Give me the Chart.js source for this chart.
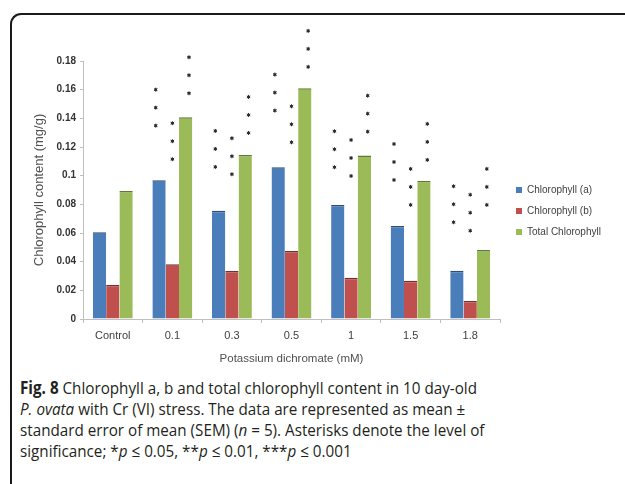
<!DOCTYPE html>
<html>
<head>
<meta charset="utf-8">
<script src="https://cdn.jsdelivr.net/npm/chart.js@4/dist/chart.umd.min.js"></script>
<style>
  body { margin: 0; background: #fff; }
  #wrap { position: relative; width: 625px; height: 484px; overflow: hidden; }
  #frame {
    position: absolute; left: 10px; top: 13px; width: 700px; height: 560px;
    border-left: 2px solid #1a1a1a; border-top: 2px solid #1a1a1a;
    border-top-left-radius: 11px;
  }
  #chart { position: absolute; left: 0; top: 0; }
  #legend { position: absolute; left: 516px; top: 183px; font: 10px "Liberation Sans", Arial, sans-serif; color: #404040; }
  #legend div { height: 21px; line-height: 14px; white-space: nowrap; }
  #legend span { display: inline-block; width: 6px; height: 6px; margin-right: 5px; vertical-align: 0px; }
  #caption {
    position: absolute; left: 20px; top: 377px; width: 680px;
    font: 17px "Open Sans", sans-serif; line-height: 21px; color: #231f20;
    transform: scaleX(0.895); transform-origin: 0 0;
  }
  #caption b { font-weight: bold; }
</style>
</head>
<body>
<div id="wrap">
  <div id="frame"></div>
  <canvas id="chart" width="625" height="375"></canvas>
  <div id="legend"></div>
  <div id="caption">
    <b>Fig. 8</b> Chlorophyll a, b and total chlorophyll content in 10 day-old<br>
    <i>P. ovata</i> with Cr (VI) stress. The data are represented as mean ±<br>
    standard error of mean (SEM) (<i>n</i> = 5). Asterisks denote the level of<br>
    significance; *<i>p</i> ≤ 0.05, **<i>p</i> ≤ 0.01, ***<i>p</i> ≤ 0.001
  </div>
</div>
<script>
// concentrations of potassium dichromate (mM)
const categories = ['Control', '0.1', '0.3', '0.5', '1', '1.5', '1.8'];
const seriesNames = ['Chlorophyll (a)', 'Chlorophyll (b)', 'Total Chlorophyll'];
const seriesColors = ['#4a7ebb', '#c0504d', '#9bbb59'];
const edgeColors = ['#2c4d77', '#7a2e2c', '#5e7a32'];

const chlA = [0.0605, 0.0968, 0.0756, 0.1059, 0.0796, 0.0649, 0.0337];
const chlB = [0.0237, 0.0382, 0.0335, 0.0475, 0.0288, 0.0267, 0.0126];
const chlTotal = [0.0893, 0.1408, 0.1145, 0.1610, 0.1140, 0.0963, 0.0482];

// significance marks and the value where the lowest asterisk sits
const sigA = ['', '***', '***', '***', '***', '***', '***'];
const sigB = ['', '***', '***', '***', '***', '***', '***'];
const sigTotal = ['', '***', '***', '***', '***', '***', '***'];
const starA = [null, 0.1349, 0.1061, 0.1454, 0.1059, 0.0970, 0.0675];
const starB = [null, 0.1115, 0.1010, 0.1233, 0.0998, 0.0796, 0.0616];
const starTotal = [null, 0.1575, 0.1298, 0.1759, 0.1307, 0.1110, 0.0796];

const yTicks = [0, 0.02, 0.04, 0.06, 0.08, 0.1, 0.12, 0.14, 0.16, 0.18];

const values = [chlA, chlB, chlTotal];
const sigs = [sigA, sigB, sigTotal];
const stars = [starA, starB, starTotal];

// legend
const legend = document.getElementById('legend');
seriesNames.forEach((n, i) => {
  legend.innerHTML += `<div><span style="background:${seriesColors[i]}"></span>${n}</div>`;
});

const asterisks = {
  id: 'asterisks',
  afterDatasetsDraw(chart) {
    const ctx = chart.ctx;
    const x = chart.scales.x, y = chart.scales.y;
    ctx.save();
    ctx.strokeStyle = '#2b2b2b';
    ctx.fillStyle = '#2b2b2b';
    ctx.lineWidth = 1;
    sigs.forEach((sig, i) => {
      const meta = chart.getDatasetMeta(i);
      sig.forEach((s, j) => {
        if (!s) return;
        const cx = x.getPixelForValue(j);
        const px = cx + (meta.data[j].x - cx) * 1.25;
        const base = y.getPixelForValue(stars[i][j]);
        for (let k = 0; k < s.length; k++) {
          const py = base - k * 18;
          for (let a = 0; a < 3; a++) {
            const ang = Math.PI / 2 + a * Math.PI / 3;
            ctx.beginPath();
            ctx.moveTo(px - Math.cos(ang) * 2, py - Math.sin(ang) * 2);
            ctx.lineTo(px + Math.cos(ang) * 2, py + Math.sin(ang) * 2);
            ctx.stroke();
          }
          ctx.beginPath();
          ctx.arc(px, py, 1.3, 0, Math.PI * 2);
          ctx.fill();
        }
      });
    });
    ctx.restore();
  }
};

new Chart(document.getElementById('chart'), {
  type: 'bar',
  data: {
    labels: categories,
    datasets: values.map((v, i) => ({
      label: seriesNames[i],
      data: v,
      backgroundColor: seriesColors[i],
      borderColor: edgeColors[i],
      borderWidth: { top: 1.5, left: 0, right: 0, bottom: 0 },
      borderSkipped: 'bottom',
      categoryPercentage: 0.67,
      barPercentage: 1.0
    }))
  },
  options: {
    responsive: false,
    animation: false,
    layout: { padding: { left: 32, right: 125, top: 61, bottom: 0 } },
    plugins: {
      legend: { display: false },
      tooltip: { enabled: false }
    },
    scales: {
      x: {
        afterFit(scale) { scale.height = 56; },
        grid: { display: true, drawOnChartArea: false, tickLength: 4, color: '#bfbfbf' },
        border: { color: '#bfbfbf' },
        ticks: {
          color: '#404040', padding: 6,
          font: { size: 11, family: 'Liberation Sans' }
        },
        title: {
          display: true, text: 'Potassium dichromate (mM)', color: '#505050',
          padding: { top: 0, bottom: 9 },
          font: { size: 11.5, family: 'Liberation Sans' }
        }
      },
      y: {
        min: 0, max: 0.18,
        afterFit(scale) { scale.width = 51; },
        afterBuildTicks(scale) { scale.ticks = yTicks.map(v => ({ value: v })); },
        grid: { display: true, drawOnChartArea: false, tickLength: 3, color: '#bfbfbf' },
        border: { color: '#bfbfbf' },
        ticks: {
          color: '#333', padding: 4,
          font: { size: 10, family: 'Liberation Sans', weight: 'bold' },
          callback: v => String(parseFloat(v.toFixed(2)))
        },
        title: {
          display: true, text: 'Chlorophyll content (mg/g)', color: '#505050',
          padding: { top: 0, bottom: 0 },
          font: { size: 13, family: 'Liberation Sans' }
        }
      }
    }
  },
  plugins: [asterisks]
});
</script>
</body>
</html>
